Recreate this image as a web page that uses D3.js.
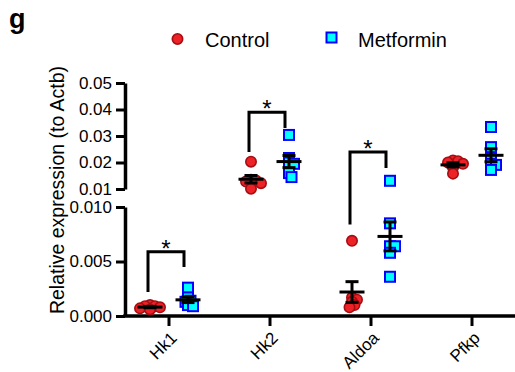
<!DOCTYPE html>
<html>
<head>
<meta charset="utf-8">
<script src="https://cdn.jsdelivr.net/npm/d3@7"></script>
<style>
  body { margin: 0; background: #fff; }
  svg { font-family: "Liberation Sans", Arial, sans-serif; }
</style>
</head>
<body>
<div id="chart"></div>
<script>
// values (relative expression to Actb)
const genes = ["Hk1", "Hk2", "Aldoa", "Pfkp"];
const controlVals = [
  [0.0010, 0.0009, 0.0009, 0.0008, 0.0007, 0.0006],
  [0.0203, 0.0135, 0.0132, 0.0128, 0.0122, 0.0101],
  [0.0069, 0.0017, 0.0015, 0.0013, 0.0010, 0.0008],
  [0.0208, 0.0205, 0.0200, 0.0195, 0.0180, 0.0158]
];
const metforminVals = [
  [0.0026, 0.0017, 0.0014, 0.0013, 0.0010, 0.0009],
  [0.0304, 0.0217, 0.0200, 0.0195, 0.0160, 0.0145],
  [0.0131, 0.0085, 0.0064, 0.0064, 0.0058, 0.0036],
  [0.0334, 0.0258, 0.0213, 0.0195, 0.0191, 0.0172]
];
const upperTicks = [0.01, 0.02, 0.03, 0.04, 0.05];
const lowerTicks = [0, 0.005, 0.010];
// significance brackets: bracket top, left leg end, right leg end
const sigGenes = ["Hk1", "Hk2", "Aldoa"];
const sigTop = [0.0059, 0.039, 0.024];
const sigLeft = [0.0022, 0.024, 0.0084];
const sigRight = [0.0045, 0.033, 0.0179];

const width = 515, height = 372;
const axisX = 125;

const svg = d3.select("#chart").append("svg")
  .attr("width", width)
  .attr("height", height);

const x = d3.scaleBand().domain(genes).range([118.5, 522.5]);
const yUp = d3.scaleLinear().domain([0.01, 0.05]).range([189, 83]);
const yLow = d3.scaleLinear().domain([0, 0.01]).range([316, 207]);
const yPos = v => v > 0.01 ? yUp(v) : yLow(v);
const cx = g => x(g) + x.bandwidth() / 2;

// axes
function styleAxis(sel) {
  sel.selectAll("path.domain").attr("stroke-width", 3.5).attr("stroke", "#000");
  sel.selectAll(".tick line").attr("stroke-width", 3).attr("stroke", "#000");
  sel.selectAll(".tick text").attr("font-size", 17).attr("fill", "#000")
    .attr("font-family", "'Liberation Sans', Arial, sans-serif");
}

svg.append("g")
  .attr("transform", `translate(${axisX},0)`)
  .call(d3.axisLeft(yUp).tickValues(upperTicks).tickFormat(d3.format(".2f"))
    .tickSize(9).tickSizeOuter(0).tickPadding(4))
  .call(styleAxis);

svg.append("g")
  .attr("transform", `translate(${axisX},0)`)
  .call(d3.axisLeft(yLow).tickValues(lowerTicks).tickFormat(d3.format(".3f"))
    .tickSize(9).tickSizeOuter(0).tickPadding(4))
  .call(styleAxis);

const xAxis = svg.append("g")
  .attr("transform", `translate(0,${yLow(0)})`)
  .call(d3.axisBottom(x).tickSize(10).tickSizeOuter(0));
xAxis.select("path.domain").remove();
xAxis.append("line")
  .attr("x1", axisX - 1.75).attr("x2", width)
  .attr("stroke", "#000").attr("stroke-width", 3.5);
xAxis.selectAll(".tick line").attr("stroke-width", 3).attr("stroke", "#000");
xAxis.selectAll(".tick text")
  .attr("font-size", 17).attr("fill", "#000")
  .attr("text-anchor", "end")
  .attr("font-family", "'Liberation Sans', Arial, sans-serif")
  .attr("transform", "translate(9,23) rotate(-45)")
  .attr("y", 0).attr("dy", 0);

// y label
svg.append("text")
  .attr("transform", `translate(64,190) rotate(-90)`)
  .attr("text-anchor", "middle")
  .attr("font-size", 19.5)
  .text("Relative expression (to Actb)");

// panel letter
svg.append("text")
  .attr("x", 9).attr("y", 28)
  .attr("font-size", 27).attr("font-weight", "bold")
  .text("g");

// simple swarm so overlapping points spread sideways
function swarm(vals, center) {
  const pts = vals.map(v => ({ v, y: yPos(v) })).sort((a, b) => a.y - b.y);
  const placed = [];
  pts.forEach(p => {
    for (let k = 0; k < 30; k++) {
      const dx = (k % 2 ? 1 : -1) * Math.ceil(k / 2) * 2.5;
      if (placed.every(q => Math.hypot(q.x - (center + dx), q.y - p.y) >= 4)) {
        p.x = center + dx;
        break;
      }
    }
    placed.push(p);
  });
  return placed;
}

const groups = [];
genes.forEach((g, i) => {
  groups.push({ gene: g, kind: "control", vals: controlVals[i], center: cx(g) - 19 });
  groups.push({ gene: g, kind: "metformin", vals: metforminVals[i], center: cx(g) + 19 });
});

// brackets
sigGenes.forEach((g, i) => {
  const l = cx(g) - 21, r = cx(g) + 15, t = yPos(sigTop[i]);
  svg.append("path")
    .attr("d", `M${l},${yPos(sigLeft[i])}V${t}H${r}V${yPos(sigRight[i])}`)
    .attr("fill", "none").attr("stroke", "#000").attr("stroke-width", 3);
  svg.append("text")
    .attr("x", (l + r) / 2).attr("y", t + 5)
    .attr("text-anchor", "middle").attr("font-size", 24)
    .text("*");
});

// points
groups.forEach(gr => {
  const pts = swarm(gr.vals, gr.center);
  if (gr.kind === "control") {
    svg.append("g").selectAll("circle").data(pts).join("circle")
      .attr("cx", d => d.x).attr("cy", d => d.y).attr("r", 5.2)
      .attr("fill", "#ec2227").attr("stroke", "#a50d12").attr("stroke-width", 1.6);
  } else {
    svg.append("g").selectAll("rect").data(pts).join("rect")
      .attr("x", d => d.x - 5).attr("y", d => d.y - 5)
      .attr("width", 10).attr("height", 10)
      .attr("fill", "#00ffff").attr("stroke", "#0000ff").attr("stroke-width", 2);
  }
});

// mean + SEM
groups.forEach(gr => {
  const m = d3.mean(gr.vals);
  const sem = d3.deviation(gr.vals) / Math.sqrt(gr.vals.length);
  const g = svg.append("g").attr("stroke", "#000").attr("stroke-width", 3);
  const c = gr.center;
  g.append("line").attr("x1", c - 12.5).attr("x2", c + 12.5)
    .attr("y1", yPos(m)).attr("y2", yPos(m));
  g.append("line").attr("x1", c).attr("x2", c)
    .attr("y1", yPos(m - sem)).attr("y2", yPos(m + sem));
  [m - sem, m + sem].forEach(v => {
    g.append("line").attr("x1", c - 6.5).attr("x2", c + 6.5)
      .attr("y1", yPos(v)).attr("y2", yPos(v));
  });
});

// legend
svg.append("circle").attr("cx", 177.5).attr("cy", 39).attr("r", 5.2)
  .attr("fill", "#ec2227").attr("stroke", "#a50d12").attr("stroke-width", 1.6);
svg.append("text").attr("x", 205).attr("y", 47).attr("font-size", 20).text("Control");
svg.append("rect").attr("x", 326.5).attr("y", 32.5).attr("width", 10).attr("height", 10)
  .attr("fill", "#00ffff").attr("stroke", "#0000ff").attr("stroke-width", 2);
svg.append("text").attr("x", 358).attr("y", 47).attr("font-size", 20).text("Metformin");
</script>
</body>
</html>
